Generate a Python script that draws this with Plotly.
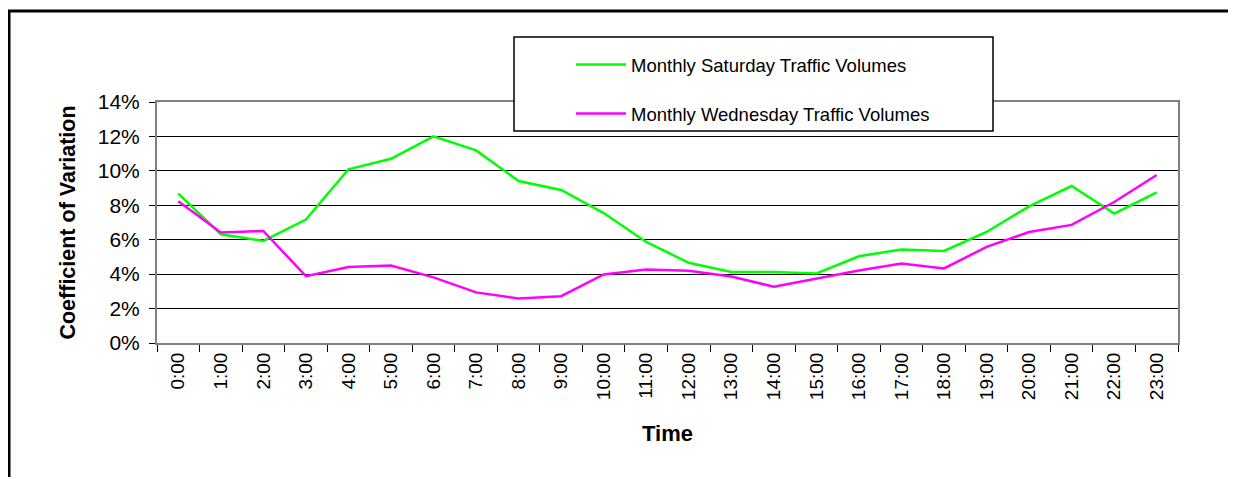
import plotly.graph_objects as go

hours = [f"{h}:00" for h in range(24)]
saturday = [8.68, 6.32, 5.93, 7.17, 10.09, 10.7, 12.0, 11.19, 9.41, 8.89, 7.55, 5.87,
            4.66, 4.12, 4.12, 4.04, 5.04, 5.43, 5.35, 6.45, 7.94, 9.12, 7.52, 8.75]
wednesday = [8.23, 6.42, 6.51, 3.88, 4.41, 4.5, 3.81, 2.94, 2.59, 2.72, 3.98, 4.27,
             4.19, 3.86, 3.27, 3.75, 4.21, 4.62, 4.33, 5.58, 6.45, 6.86, 8.19, 9.76]
y_ticks = [0, 2, 4, 6, 8, 10, 12, 14]

OFF = 8  # page body margin (on every side)
W, H = 1236 - 2 * OFF, 485 - 2 * OFF
L, R, T, B = 157 - OFF, 1178 - OFF, 102 - OFF, 343 - OFF

def px_x(p):
    return (p - OFF - L) / (R - L)

def px_y(p):
    return (B - (p - OFF)) / (B - T)

fig = go.Figure()
fig.add_trace(go.Scatter(x=hours, y=[v / 100 for v in saturday], mode="lines",
                         name="Monthly Saturday Traffic Volumes", legendgroup="a",
                         line=dict(color="#00FF00", width=2.5)))
fig.add_trace(go.Scatter(x=hours, y=[v / 100 for v in wednesday], mode="lines",
                         name="Monthly Wednesday Traffic Volumes", legendgroup="b",
                         line=dict(color="#FF00FF", width=2.5)))

font = "Liberation Sans, Arial, sans-serif"

fig.update_layout(
    width=W, height=H,
    margin=dict(l=L, r=W - R, t=T, b=H - B, pad=0),
    paper_bgcolor="white", plot_bgcolor="white",
    font=dict(family=font, color="black", size=18),
    showlegend=True,
    legend=dict(x=px_x(571), y=px_y(46), xanchor="left", yanchor="top",
                bgcolor="rgba(0,0,0,0)", borderwidth=0, tracegroupgap=22,
                itemwidth=50,
                font=dict(size=18.5, family=font, color="black")),
    xaxis=dict(type="category", tickson="boundaries", ticks="outside", ticklen=7,
               tickcolor="black", tickangle=-90, tickfont=dict(size=19),
               showgrid=False, showline=True, linecolor="#808080", linewidth=2,
               mirror=True, title=dict(text="<b>Time</b>", font=dict(size=22), standoff=26),
               range=[-0.5, 23.5]),
    yaxis=dict(range=[0, 0.14], tickvals=[v / 100 for v in y_ticks],
               ticktext=[f"{v}%" for v in y_ticks], ticks="outside", ticklen=6,
               tickcolor="black", tickfont=dict(size=21), ticklabelstandoff=5,
               showgrid=True, gridcolor="black", gridwidth=1,
               showline=True, linecolor="#808080", linewidth=2, mirror=True,
               zeroline=False,
               title=dict(text="<b>Coefficient of Variation</b>", font=dict(size=21.5), standoff=16)),
)

# outer chart border: only left and top edges are visible in the cropped reference
fig.add_shape(type="line", xref="paper", yref="paper",
              x0=px_x(9), x1=px_x(9), y0=px_y(11), y1=px_y(485),
              line=dict(color="black", width=3), layer="below")
fig.add_shape(type="line", xref="paper", yref="paper",
              x0=px_x(8), x1=px_x(1228), y0=px_y(11), y1=px_y(11),
              line=dict(color="black", width=3), layer="below")
# legend box
fig.add_shape(type="rect", xref="paper", yref="paper",
              x0=px_x(514), x1=px_x(993), y0=px_y(37), y1=px_y(131),
              line=dict(color="black", width=1.5), fillcolor="white", layer="above")

fig.write_html("out.html")
